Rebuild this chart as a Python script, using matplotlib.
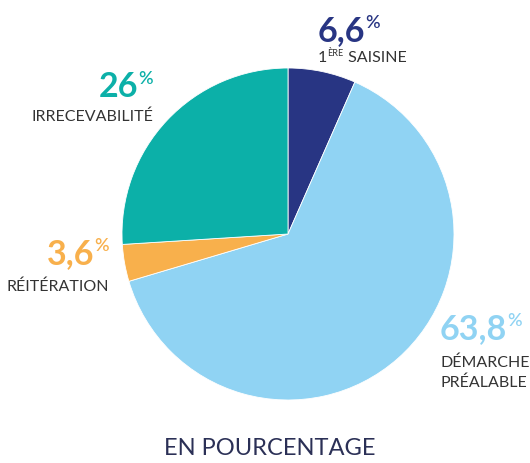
import matplotlib
matplotlib.use("Agg")
import matplotlib.pyplot as plt

# data (clockwise from 12 o'clock)
values = [6.6, 63.8, 3.6, 26]
value_labels = ["6,6", "63,8", "3,6", "26"]
colors = ["#283583", "#90d3f3", "#f8b04c", "#0cb0a8"]

plt.rcParams['font.family'] = ['Lato', 'DejaVu Sans']

W, H = 530, 463
fig = plt.figure(figsize=(W / 100, H / 100), dpi=100)

# pie axes: centre (288, 234), radius 166 px
cx, cy, r = 288, 234, 166
ax = fig.add_axes([(cx - r) / W, (H - cy - r) / H, 2 * r / W, 2 * r / H])
ax.pie(values, colors=colors, startangle=90, counterclock=False, radius=1,
       wedgeprops=dict(edgecolor="white", linewidth=0.6))
ax.set_xlim(-1, 1)
ax.set_ylim(-1, 1)
ax.set_aspect("auto")
ax.axis("off")

renderer = fig.canvas.get_renderer()


def pieces(x, y, parts, ha="left"):
    """Draw text pieces one after another; x, y in pixels from top-left (baseline)."""
    objs = []
    for txt, size, weight, color, dy in parts:
        t = fig.text(0, 0, txt, fontsize=size, fontweight=weight, color=color,
                     va="baseline", ha="left", transform=None)
        objs.append((t, dy))
    widths = [t.get_window_extent(renderer).width for t, _ in objs]
    total = sum(widths)
    start = x - total if ha == "right" else x
    for (t, dy), w in zip(objs, widths):
        t.set_position((start, H - y + dy))
        start += w


gray = "#333333"
big, pct = 24.5, 13

# 6,6 %
pieces(318, 41, [(value_labels[0], big, "bold", colors[0], 0), ("%", pct, "semibold", colors[0], 13)])
pieces(318, 62, [("1", 11.5, "normal", gray, 0), ("ÈRE", 6.5, "normal", gray, 6),
                 (" SAISINE", 11.5, "normal", gray, 0)])

# 26 %
pieces(153, 97, [(value_labels[3], big, "bold", colors[3], 0), ("%", pct, "semibold", colors[3], 13)], ha="right")
pieces(153, 121, [("IRRECEVABILITÉ", 11.5, "normal", gray, 0)], ha="right")

# 3,6 %
pieces(109, 264, [(value_labels[2], big, "bold", colors[2], 0), ("%", pct, "semibold", colors[2], 13)], ha="right")
pieces(109, 291, [("RÉITÉRATION", 11.5, "normal", gray, 0)], ha="right")

# 63,8 %
pieces(440, 339, [(value_labels[1], big, "bold", colors[1], 0), ("%", pct, "semibold", colors[1], 13)])
pieces(440, 367, [("DÉMARCHE", 11.5, "normal", gray, 0)])
pieces(440, 387, [("PRÉALABLE", 11.5, "normal", gray, 0)])

fig.text(270 / W, (H - 455) / H, "EN POURCENTAGE", fontsize=17, color="#2b3056",
         ha="center", va="baseline")

fig.savefig("out.png", dpi=100)
